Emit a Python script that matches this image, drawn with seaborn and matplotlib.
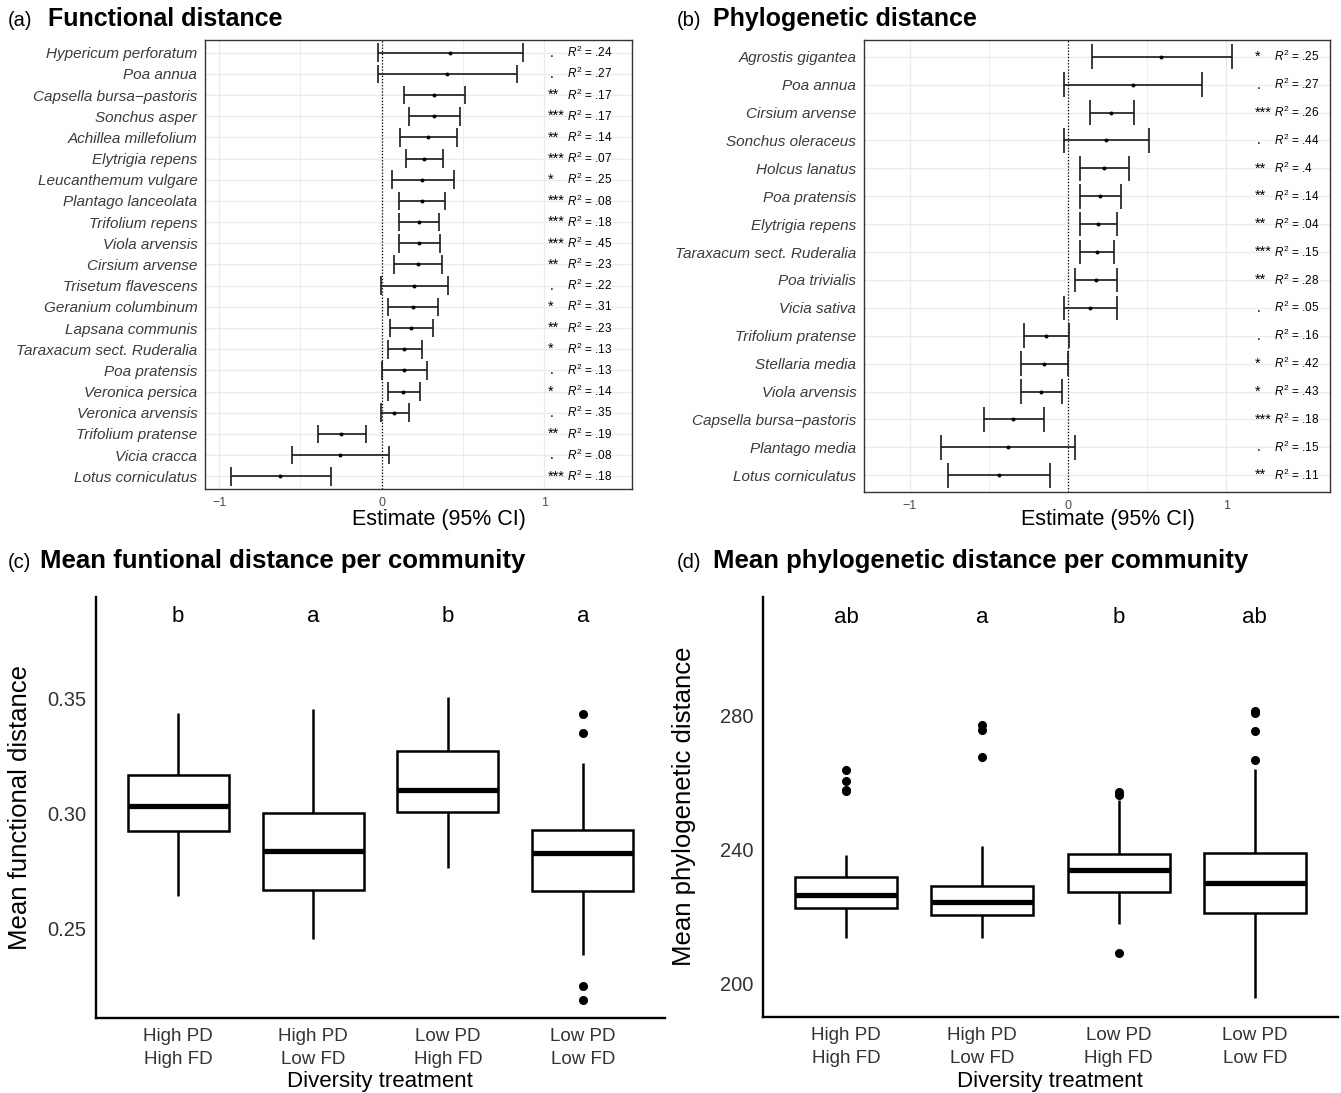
import numpy as np
import pandas as pd
import matplotlib
matplotlib.use("Agg")
import matplotlib.pyplot as plt
import seaborn as sns

# ---------------- DATA ----------------
fd_species = ["Hypericum perforatum", "Poa annua", "Capsella bursa\u2212pastoris", "Sonchus asper",
              "Achillea millefolium", "Elytrigia repens", "Leucanthemum vulgare", "Plantago lanceolata",
              "Trifolium repens", "Viola arvensis", "Cirsium arvense", "Trisetum flavescens",
              "Geranium columbinum", "Lapsana communis", "Taraxacum sect. Ruderalia", "Poa pratensis",
              "Veronica persica", "Veronica arvensis", "Trifolium pratense", "Vicia cracca",
              "Lotus corniculatus"]
fd_est = [0.42, 0.40, 0.32, 0.32, 0.285, 0.26, 0.25, 0.245, 0.23, 0.23, 0.223, 0.197, 0.19, 0.18,
          0.137, 0.137, 0.129, 0.078, -0.248, -0.258, -0.626]
fd_lo = [-0.02, -0.02, 0.135, 0.165, 0.11, 0.15, 0.063, 0.104, 0.108, 0.108, 0.078, -0.004, 0.041,
         0.053, 0.037, 0.002, 0.037, -0.004, -0.39, -0.552, -0.93]
fd_hi = [0.87, 0.83, 0.515, 0.48, 0.465, 0.38, 0.447, 0.39, 0.355, 0.36, 0.373, 0.405, 0.346, 0.316,
         0.248, 0.277, 0.234, 0.166, -0.098, 0.043, -0.314]
fd_sig = [".", ".", "**", "***", "**", "***", "*", "***", "***", "***", "**", ".", "*", "**", "*", ".",
          "*", ".", "**", ".", "***"]
fd_r2 = [".24", ".27", ".17", ".17", ".14", ".07", ".25", ".08", ".18", ".45", ".23", ".22", ".31",
         ".23", ".13", ".13", ".14", ".35", ".19", ".08", ".18"]

pd_species = ["Agrostis gigantea", "Poa annua", "Cirsium arvense", "Sonchus oleraceus", "Holcus lanatus",
              "Poa pratensis", "Elytrigia repens", "Taraxacum sect. Ruderalia", "Poa trivialis",
              "Vicia sativa", "Trifolium pratense", "Stellaria media", "Viola arvensis",
              "Capsella bursa\u2212pastoris", "Plantago media", "Lotus corniculatus"]
pd_est = [0.59, 0.408, 0.273, 0.242, 0.229, 0.20, 0.19, 0.18, 0.174, 0.14, -0.137, -0.153, -0.168,
          -0.345, -0.38, -0.437]
pd_lo = [0.154, -0.025, 0.137, -0.025, 0.078, 0.074, 0.076, 0.078, 0.044, -0.023, -0.276, -0.295,
         -0.295, -0.53, -0.80, -0.755]
pd_hi = [1.037, 0.843, 0.417, 0.511, 0.383, 0.335, 0.307, 0.29, 0.307, 0.307, 0.008, 0.0, -0.036,
         -0.153, 0.044, -0.115]
pd_sig = ["*", ".", "***", ".", "**", "**", "**", "***", "**", ".", ".", "*", "*", "***", ".", "**"]
pd_r2 = [".25", ".27", ".26", ".44", ".4", ".14", ".04", ".15", ".28", ".05", ".16", ".42", ".43",
         ".18", ".15", ".11"]

treatments = ["High PD\nHigh FD", "High PD\nLow FD", "Low PD\nHigh FD", "Low PD\nLow FD"]

fdc_whisker_low = [0.2641, 0.2452, 0.2763, 0.2383]
fdc_q1 = [0.2923, 0.2667, 0.3004, 0.2664]
fdc_median = [0.3031, 0.2837, 0.3100, 0.2829]
fdc_q3 = [0.3166, 0.3003, 0.3269, 0.2929]
fdc_whisker_high = [0.3435, 0.3452, 0.3506, 0.3218]
fdc_outliers = [[], [], [], [0.3432, 0.3350, 0.2248, 0.2189]]
fdc_letters = ["b", "a", "b", "a"]

pdc_whisker_low = [213.7, 213.7, 217.7, 195.9]
pdc_q1 = [222.6, 220.4, 227.4, 221.1]
pdc_median = [226.6, 224.4, 233.8, 230.0]
pdc_q3 = [231.8, 229.1, 238.8, 239.1]
pdc_whisker_high = [238.3, 241.1, 254.9, 264.1]
pdc_outliers = [[263.8, 260.4, 257.9, 257.4], [277.0, 275.6, 267.6], [257.2, 256.2, 209.1],
                [281.3, 280.7, 275.5, 266.6]]
pdc_letters = ["ab", "a", "b", "ab"]

# ---------------- STYLE ----------------
sns.set_style("white")
FONT = ["Liberation Sans", "DejaVu Sans"]
plt.rcParams["font.family"] = FONT
plt.rcParams["text.color"] = "black"
plt.rcParams["mathtext.fontset"] = "custom"
plt.rcParams["mathtext.rm"] = "Liberation Sans"
plt.rcParams["mathtext.it"] = "Liberation Sans:italic"

W, H = 1341, 1093
fig = plt.figure(figsize=(W / 100, H / 100), dpi=100)


def px_axes(l, t, r, b):
    return fig.add_axes([l / W, 1 - b / H, (r - l) / W, (b - t) / H])


def ftext(x, y, s, **kw):
    fig.text(x / W, 1 - y / H, s, **kw)


def forest(ax, species, est, lo, hi, sig, r2, xlim, star_x, r2_x):
    n = len(species)
    y = np.arange(n)
    ax.set_xlim(*xlim)
    ax.set_ylim(n - 1 + 0.6, -0.6)
    ax.set_xticks([-1, 0, 1])
    ax.set_xticks([-0.5, 0.5], minor=True)
    ax.set_xticklabels(["\u22121", "0", "1"])
    ax.set_yticks(y)
    ax.grid(which="major", color="#ebebeb", lw=1.0)
    ax.grid(which="minor", axis="x", color="#ebebeb", lw=0.6)
    ax.set_axisbelow(True)
    ax.axvline(0, color="black", ls=(0, (1, 1.5)), lw=0.9, zorder=1)
    ax.hlines(y, lo, hi, color="#1a1a1a", lw=1.2, zorder=2)
    ax.vlines(lo, y - 0.44, y + 0.44, color="#1a1a1a", lw=1.2, zorder=2)
    ax.vlines(hi, y - 0.44, y + 0.44, color="#1a1a1a", lw=1.2, zorder=2)
    sns.scatterplot(x=est, y=y, ax=ax, color="black", s=8, linewidth=0, zorder=3)
    ax.set_yticklabels(species, style="italic", fontsize=11, color="#3a3a3a")
    ax.tick_params(axis="x", which="major", labelsize=9, colors="#333333", labelcolor="#4d4d4d",
                   length=3.5, width=0.8, pad=2)
    ax.tick_params(axis="x", which="minor", length=0)
    ax.tick_params(axis="y", length=3.5, width=0.8, colors="#333333", labelcolor="#3a3a3a", pad=2)
    for sp in ax.spines.values():
        sp.set_color("#333333")
        sp.set_linewidth(1.0)
    for i in range(n):
        if sig[i] == ".":
            ax.text(star_x + 0.01, i, sig[i], fontsize=10, ha="left", va="center", color="black")
        else:
            ax.text(star_x, i, sig[i], fontsize=10.5, ha="left", va="center", color="black")
        ax.text(r2_x, i, r"$R^2$ = " + r2[i], fontsize=8.5, ha="left", va="center", color="black")
    ax.set_xlabel("")
    ax.set_ylabel("")


def build_sample(wl, q1, med, q3, wh, outs):
    lows = [v for v in outs if v < q1]
    highs = [v for v in outs if v > q3]
    return lows + [wl] + [q1] * 20 + [med] * 20 + [q3] * 20 + [wh] + highs


def boxpanel(ax, wl, q1, med, q3, wh, outs, letters, ylim, yticks, yticklabels, letter_y):
    rows = []
    for i, t in enumerate(treatments):
        for v in build_sample(wl[i], q1[i], med[i], q3[i], wh[i], outs[i]):
            rows.append((t, v))
    df = pd.DataFrame(rows, columns=["treatment", "value"])
    sns.boxplot(data=df, x="treatment", y="value", order=treatments, ax=ax, width=0.75,
                color="white", saturation=1, linecolor="black", linewidth=1.8, showcaps=False,
                medianprops={"linewidth": 3.8, "color": "black"},
                flierprops={"marker": "o", "markerfacecolor": "black", "markeredgecolor": "black",
                            "markersize": 5.5})
    ax.set_xlim(-0.61, 3.61)
    ax.set_ylim(*ylim)
    ax.set_yticks(yticks)
    ax.set_yticklabels(yticklabels)
    for i, lt in enumerate(letters):
        ax.text(i, letter_y, lt, fontsize=16, ha="center", va="center", color="black")
    for s in ["top", "right"]:
        ax.spines[s].set_visible(False)
    for s in ["left", "bottom"]:
        ax.spines[s].set_color("black")
        ax.spines[s].set_linewidth(1.7)
    ax.tick_params(axis="both", length=5, width=1.5, colors="black", labelcolor="#333333", pad=2)
    ax.tick_params(axis="y", labelsize=14.5)
    ax.tick_params(axis="x", labelsize=13.5)
    for lab in ax.get_xticklabels():
        lab.set_linespacing(1.45)
    ax.set_xlabel("")
    ax.set_ylabel("")


# ---------------- PANELS ----------------
ax_a = px_axes(205, 40, 632, 489)
forest(ax_a, fd_species, fd_est, fd_lo, fd_hi, fd_sig, fd_r2, (-1.087, 1.540), 1.025, 1.14)

ax_b = px_axes(864, 40, 1330, 492)
forest(ax_b, pd_species, pd_est, pd_lo, pd_hi, pd_sig, pd_r2, (-1.288, 1.654), 1.18, 1.30)

ax_c = px_axes(96, 597, 665, 1018)
boxpanel(ax_c, fdc_whisker_low, fdc_q1, fdc_median, fdc_q3, fdc_whisker_high, fdc_outliers,
         fdc_letters, (0.2111, 0.3939), [0.25, 0.30, 0.35], ["0.25", "0.30", "0.35"], 0.3853)

ax_d = px_axes(763, 597, 1338, 1017)
boxpanel(ax_d, pdc_whisker_low, pdc_q1, pdc_median, pdc_q3, pdc_whisker_high, pdc_outliers,
         pdc_letters, (190.1, 315.3), [200, 240, 280], ["200", "240", "280"], 309.2)

# ---------------- TEXT ----------------
ftext(8, 26, "(a)", fontsize=14.5, va="baseline", ha="left")
ftext(48, 26, "Functional distance", fontsize=18, fontweight="bold", va="baseline", ha="left")
ftext(677, 26, "(b)", fontsize=14.5, va="baseline", ha="left")
ftext(713, 26, "Phylogenetic distance", fontsize=18, fontweight="bold", va="baseline", ha="left")
ftext(8, 568, "(c)", fontsize=14.5, va="baseline", ha="left")
ftext(40, 568, "Mean funtional distance per community", fontsize=18.5, fontweight="bold",
      va="baseline", ha="left")
ftext(677, 568, "(d)", fontsize=14.5, va="baseline", ha="left")
ftext(713, 568, "Mean phylogenetic distance per community", fontsize=18.5, fontweight="bold",
      va="baseline", ha="left")

ftext(439, 520, "Estimate (95% CI)", fontsize=15.5, ha="center", va="center")
ftext(1108, 520, "Estimate (95% CI)", fontsize=15.5, ha="center", va="center")
ftext(380, 1081, "Diversity treatment", fontsize=16, ha="center", va="center")
ftext(1050, 1081, "Diversity treatment", fontsize=16, ha="center", va="center")
ftext(20, 807, "Mean functional distance", fontsize=18.5, ha="center", va="center", rotation=90)
ftext(684, 806, "Mean phylogenetic distance", fontsize=18.5, ha="center", va="center", rotation=90)

fig.savefig("out.png", dpi=100)
